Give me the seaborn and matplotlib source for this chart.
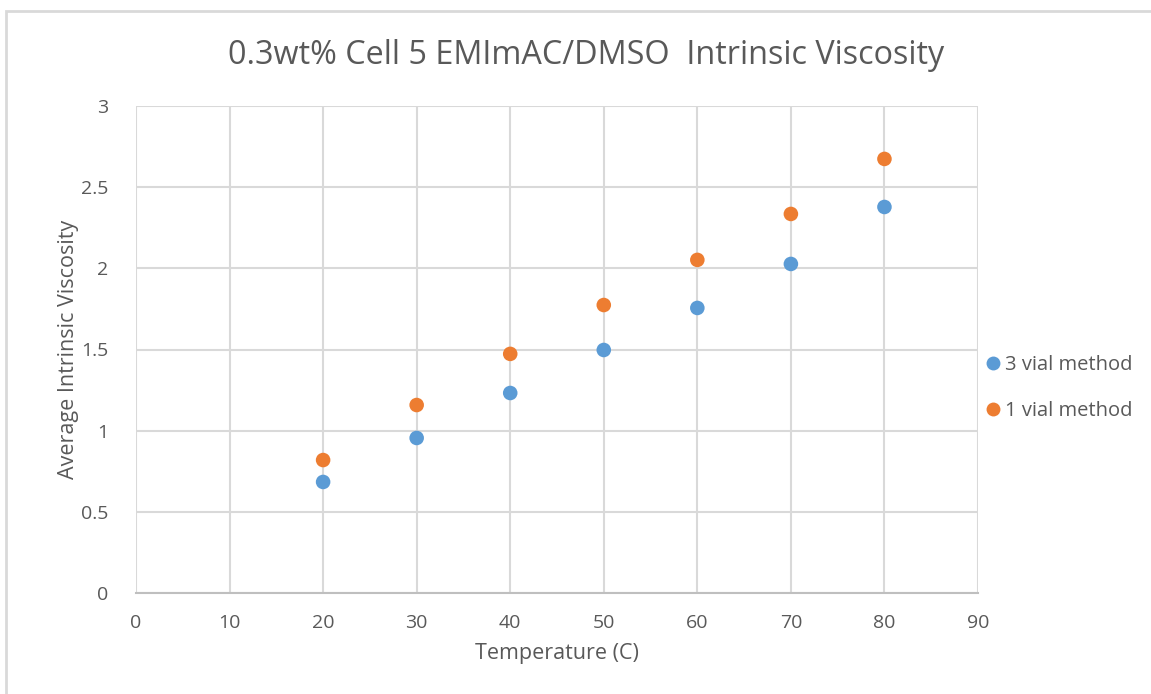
import numpy as np
import pandas as pd
import matplotlib
matplotlib.use("Agg")
import matplotlib.pyplot as plt
import seaborn as sns
from matplotlib.patches import Rectangle

temperature = [20, 30, 40, 50, 60, 70, 80]
three_vial = [0.684, 0.955, 1.232, 1.497, 1.756, 2.027, 2.378]
one_vial = [0.819, 1.158, 1.473, 1.774, 2.052, 2.335, 2.674]
series_names = ["3 vial method", "1 vial method"]
x_ticks = [0, 10, 20, 30, 40, 50, 60, 70, 80, 90]
y_ticks = [0, 0.5, 1, 1.5, 2, 2.5, 3]
y_tick_labels = ["0", "0.5", "1", "1.5", "2", "2.5", "3"]

df = pd.DataFrame({
    "Temperature": temperature * 2,
    "Viscosity": three_vial + one_vial,
    "Method": [series_names[0]] * len(temperature) + [series_names[1]] * len(temperature),
})

sns.set_theme(style="white")
plt.rcParams["font.family"] = ["Open Sans", "DejaVu Sans"]

text_gray = "#595959"
grid_gray = "#d9d9d9"

fig = plt.figure(figsize=(11.51, 6.94), dpi=100)
W, H = 1151, 694
ax = fig.add_axes([136 / W, (H - 593) / H, (978 - 136) / W, (593 - 106) / H])

# outer chart border
fig.patches.append(Rectangle((6 / W, -0.05), 1.2, (H - 11) / H + 0.05,
                             transform=fig.transFigure, fill=False,
                             edgecolor="#d9d9d9", linewidth=2))

sns.scatterplot(data=df, x="Temperature", y="Viscosity", hue="Method",
                palette={series_names[0]: "#5B9BD5", series_names[1]: "#ED7D31"},
                s=110, edgecolor="none", ax=ax, legend=False, zorder=3)

ax.set_xlim(0, 90)
ax.set_ylim(0, 3)
ax.set_xticks(x_ticks)
ax.set_yticks(y_ticks)
ax.set_yticklabels(y_tick_labels)
ax.grid(True, color=grid_gray, linewidth=1.5)
ax.set_axisbelow(True)
for side in ["left", "top", "right"]:
    ax.spines[side].set_visible(False)
ax.spines["bottom"].set_color("#bfbfbf")
ax.spines["bottom"].set_linewidth(1.5)
ax.tick_params(axis="both", length=0, labelsize=14, colors=text_gray)
ax.tick_params(axis="x", pad=15)
ax.tick_params(axis="y", pad=20)

ax.set_xlabel("Temperature (C)", fontsize=15.5, color=text_gray, labelpad=8)
ax.set_ylabel("Average Intrinsic Viscosity", fontsize=15.5, color=text_gray, labelpad=1)

fig.text(586 / W, 1 - 56 / H, "0.3wt% Cell 5 EMImAC/DMSO  Intrinsic Viscosity",
         ha="center", va="center", fontsize=23.3, color=text_gray)

handles = [plt.Line2D([], [], marker="o", linestyle="", markersize=10,
                      markerfacecolor=c, markeredgecolor="none")
           for c in ["#5B9BD5", "#ED7D31"]]
fig.legend(handles, series_names, loc="center left",
           bbox_to_anchor=(963 / W, 1 - 388 / H), frameon=False,
           fontsize=14.5, labelcolor=text_gray, handletextpad=0.0,
           labelspacing=1.25, handlelength=1.2)

fig.savefig("out.png", dpi=100)
